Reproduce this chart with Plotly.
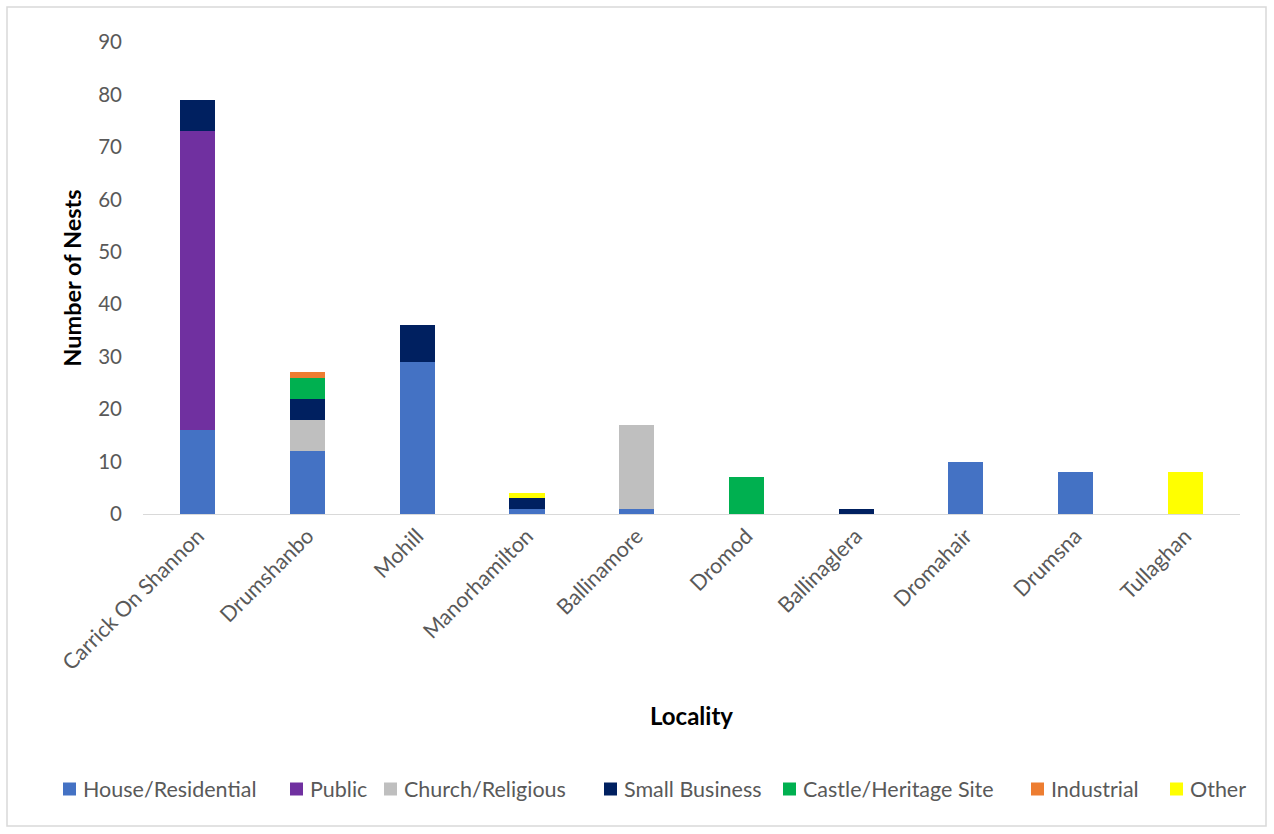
import plotly.graph_objects as go

localities = ["Carrick On Shannon", "Drumshanbo", "Mohill", "Manorhamilton", "Ballinamore",
              "Dromod", "Ballinaglera", "Dromahair", "Drumsna", "Tullaghan"]

house_residential = [16, 12, 29, 1, 1, 0, 0, 10, 8, 0]
public = [57, 0, 0, 0, 0, 0, 0, 0, 0, 0]
church_religious = [0, 6, 0, 0, 16, 0, 0, 0, 0, 0]
small_business = [6, 4, 7, 2, 0, 0, 1, 0, 0, 0]
castle_heritage = [0, 4, 0, 0, 0, 7, 0, 0, 0, 0]
industrial = [0, 1, 0, 0, 0, 0, 0, 0, 0, 0]
other = [0, 0, 0, 1, 0, 0, 0, 0, 0, 8]

series = [
    ("House/Residential", house_residential, "#4472C4"),
    ("Public", public, "#7030A0"),
    ("Church/Religious", church_religious, "#BFBFBF"),
    ("Small Business", small_business, "#002060"),
    ("Castle/Heritage Site", castle_heritage, "#00B050"),
    ("Industrial", industrial, "#ED7D31"),
    ("Other", other, "#FFFF00"),
]

fig = go.Figure()
for name, vals, color in series:
    fig.add_trace(go.Bar(
        name=name, x=localities, y=vals,
        marker=dict(color=color, line=dict(width=0)),
        showlegend=False,
    ))

W, H = 1274, 834
L, R, T, B = 143, 34, 42, 320
pw, ph = W - L - R, H - T - B


def px_x(px):
    return (px - L) / pw


def px_y(py):
    return (T + ph - py) / ph


fig.update_layout(
    width=W, height=H,
    barmode="stack",
    bargap=0.68,
    plot_bgcolor="white",
    paper_bgcolor="white",
    margin=dict(l=L, r=R, t=T, b=B, autoexpand=False),
    font=dict(family="Lato, 'Open Sans', sans-serif", color="#595959", size=20),
    xaxis=dict(
        tickangle=-45,
        showline=True, linecolor="#D9D9D9", linewidth=1,
        showgrid=False, ticks="",
        tickfont=dict(size=21.5, color="#595959"),
        title=dict(text="<b>Locality</b>", font=dict(size=24, color="black"), standoff=34),
    ),
    yaxis=dict(
        range=[0, 90], dtick=10,
        showgrid=False, zeroline=False, showline=False, ticks="",
        tickfont=dict(size=20.5, color="#595959"),
        ticklabelstandoff=20,
        title=dict(text="<b>Number of Nests</b>", font=dict(size=23.5, color="black"), standoff=9),
    ),
)

# legend row along the bottom: colour swatch followed by its label
legend_left = [63, 290, 384, 604, 783, 1031, 1170]
legend_mid = 789
for (name, _, color), lx in zip(series, legend_left):
    fig.add_shape(
        type="rect", xref="paper", yref="paper",
        x0=px_x(lx), x1=px_x(lx + 13),
        y0=px_y(legend_mid + 6.5), y1=px_y(legend_mid - 6.5),
        line=dict(width=0), fillcolor=color,
    )
    fig.add_annotation(
        xref="paper", yref="paper", x=px_x(lx + 18), y=px_y(legend_mid),
        xanchor="left", yanchor="middle", showarrow=False,
        text=name, font=dict(size=21.5, color="#595959"),
    )

# light chart-area border around the whole figure
fig.add_shape(
    type="rect", xref="paper", yref="paper",
    x0=px_x(7), x1=px_x(W - 8),
    y0=px_y(H - 8), y1=px_y(7),
    line=dict(color="#D9D9D9", width=1.5), fillcolor="rgba(0,0,0,0)", layer="below",
)

fig.write_html("out.html")
